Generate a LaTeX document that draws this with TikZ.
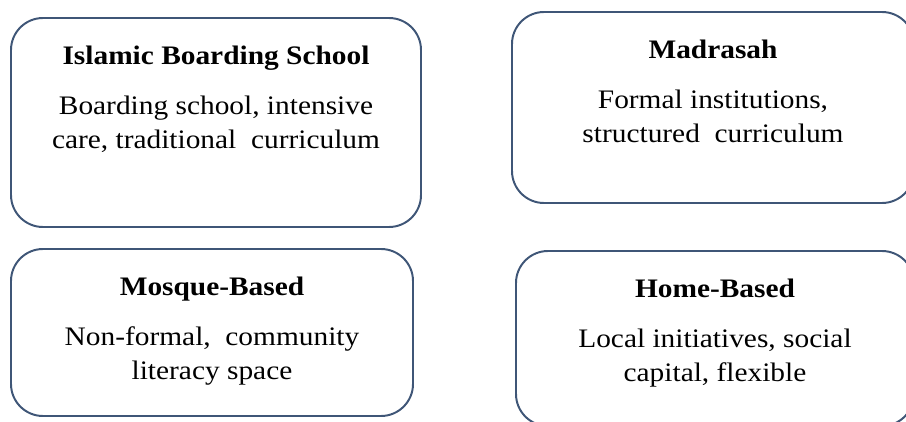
\documentclass[tikz,border=0pt]{standalone}
\usepackage{fontspec}
\setmainfont[FakeStretch=1.1]{Liberation Serif}
\usetikzlibrary{positioning}
\definecolor{edgeblue}{HTML}{3F5677}

\begin{document}
\begin{tikzpicture}

      \useasboundingbox (0,0) rectangle (22.65,10.525);

      % the four rounded boxes
      \begin{scope}[every node/.style={draw=edgeblue,line width=1.4pt,rounded corners=0.8cm}]
        \node[minimum width=10.25cm,minimum height=5.225cm] (ibs)  at (5.4,7.4625)   {};
        \node[minimum width=10.05cm,minimum height=4.775cm] (mad)  at (17.825,7.8375) {};
        \node[minimum width=10.05cm,minimum height=4.175cm] (msq)  at (5.3,2.2125)   {};
        \node[minimum width=9.95cm, minimum height=4.375cm] (home) at (17.875,2.0625) {};
      \end{scope}

      \begin{scope}[every node/.style={inner sep=0pt,font=\fontsize{19}{24}\selectfont}]

        % titles
        \begin{scope}[every node/.append style={font=\fontsize{19}{24}\selectfont\bfseries}]
          \node[below=0.72cm of ibs.north]  (ibs-t)  {Islamic Boarding School};
          \node[below=0.72cm of mad.north]  (mad-t)  {Madrasah};
          \node[below=0.72cm of msq.north]  (msq-t)  {Mosque-Based};
          \node[below=0.72cm of home.north] (home-t) {Home-Based};
        \end{scope}

        % descriptions
        \node[below=0.78cm of ibs-t.base,align=center]  (ibs-d)  {Boarding school, intensive\\care, traditional\ \ curriculum};
        \node[below=0.78cm of mad-t.base,align=center]  (mad-d)  {Formal institutions,\\structured\ \ curriculum};
        \node[below=0.78cm of msq-t.base,align=center]  (msq-d)  {Non-formal,\ \ community\\literacy space};
        \node[below=0.78cm of home-t.base,align=center] (home-d) {Local initiatives, social\\capital, flexible};
      \end{scope}

    \end{tikzpicture}
\end{document}
